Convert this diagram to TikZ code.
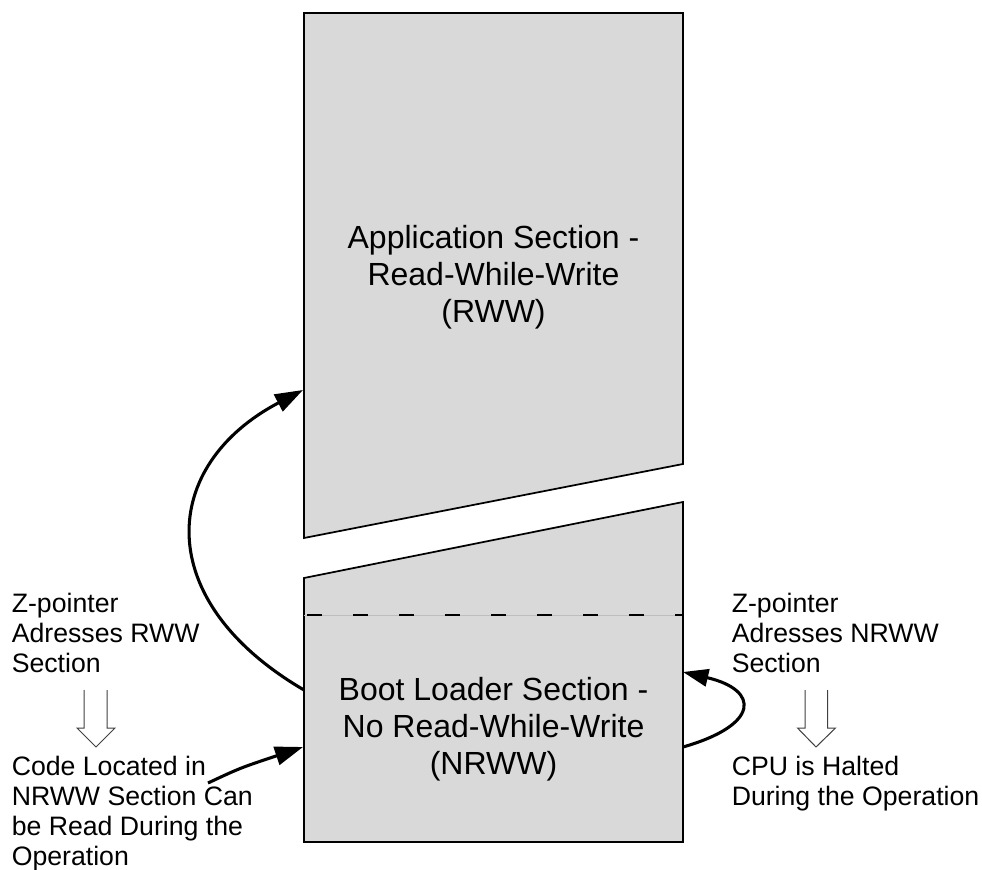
\documentclass[tikz,border=0pt]{standalone}
\usepackage{fontspec}
\setmainfont{Liberation Sans}
\usetikzlibrary{arrows.meta}
\definecolor{secfill}{RGB}{217,217,217}
\definecolor{seamgray}{RGB}{190,190,190}
\begin{document}
\begin{tikzpicture}[x=0.75pt,y=-0.75pt,
  sect/.style={draw=black,fill=secfill,line width=1.3pt,line join=miter},
  maintext/.style={inner sep=0pt,align=center,font=\fontsize{24pt}{27.75pt}\selectfont},
  sidetext/.style={inner sep=0pt,align=left,anchor=north west,font=\fontsize{20pt}{22.5pt}\selectfont},
  flow/.style={line width=2.3pt,-{Triangle[length=21pt,width=14pt]}},
  hollow/.style={draw=black!75,line width=0.75pt,fill=white,line join=miter}]
\useasboundingbox (0,0) rectangle (982,870);

% corner coordinates of the two memory sections
\coordinate (apptl) at (304,13);
\coordinate (apptr) at (683,13);
\coordinate (appbr) at (683,464);
\coordinate (appbl) at (304,538);
\coordinate (boottl) at (304,578);
\coordinate (boottr) at (683,502);
\coordinate (bootbr) at (683,842);
\coordinate (bootbl) at (304,842);
\coordinate (seaml) at (304,615);
\coordinate (seamr) at (683,615);

\draw[sect] (apptl) -- (apptr) -- (appbr) -- (appbl) -- cycle;
\draw[sect] (boottl) -- (boottr) -- (bootbr) -- (bootbl) -- cycle;

% dashed seam
\draw[seamgray,line width=0.75pt] (seaml) -- (seamr);
\draw[black,line width=2pt,dash pattern=on 11.25pt off 23.25pt,dash phase=32.25pt] (seaml) -- (seamr);

% texts
\node[maintext] (apptext) at (493.5,277) {Application Section -\\Read-While-Write\\(RWW)};
\node[maintext] (boottext) at (493.5,729) {Boot Loader Section -\\No Read-While-Write\\(NRWW)};
\node[sidetext] (zrww) at (11.5,592.9) {Z-pointer\\Adresses RWW\\Section};
\node[sidetext] (coderead) at (11.5,755.5) {Code Located in\\NRWW Section Can\\be Read During the\\Operation};
\node[sidetext] (znrww) at (731.5,592.9) {Z-pointer\\Adresses NRWW\\Section};
\node[sidetext] (cpuhalt) at (731.5,755.5) {CPU is Halted\\During the Operation};

% hollow down arrows
\draw[hollow] (84,690) -- (84,728) -- (77,728) -- (96,747) -- (115,728) -- (107,728) -- (107,690);
\draw[hollow] (805,690) -- (805,728) -- (797.5,728) -- (816,747) -- (835.5,728) -- (827.5,728) -- (827.5,690);

% connector end points
\coordinate (bootout) at (304,690);
\coordinate (appin) at (303,390);
\coordinate (codestart) at (208,783);
\coordinate (bootin) at (303,747);
\coordinate (loopout) at (683,747);
\coordinate (loopin) at (683,672);

% curved arrows
\draw[flow] (bootout) .. controls (150,600) and (160,465) .. (appin);
\draw[flow] (codestart) .. controls (240,768) .. (bootin);
\draw[flow,-{Triangle[length=19pt,width=13pt]}] (loopout) .. controls (760,725) and (760,690) .. (loopin);
\end{tikzpicture}
\end{document}
